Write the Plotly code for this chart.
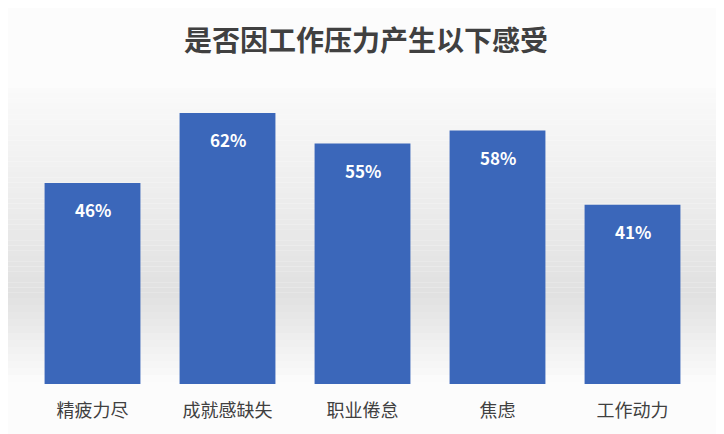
import plotly.graph_objects as go

categories = ["精疲力尽", "成就感缺失", "职业倦怠", "焦虑", "工作动力"]
values = [46, 62, 55, 58, 41]
labels = ["46%", "62%", "55%", "58%", "41%"]

# page body adds an 8px offset, so the figure is a bit smaller than the window
W, H = 716, 426
mt, mb = 70, 50
plot_h = H - mt - mb

def py(pix):
    # pixel (from top of figure) -> paper y
    return (H - mb - pix) / plot_h

fig = go.Figure()
fig.add_trace(go.Bar(x=categories, y=values, marker=dict(color="#3b67ba", line=dict(width=0)),
                     hoverinfo="skip"))

# background: soft grey band fading out toward the top and the bottom
shapes = []
bands = 40
for i in range(bands):
    top = 80 + i * (290 - 80) / bands
    bot = 80 + (i + 1) * (290 - 80) / bands
    g = int(251 - (i + 1) * (251 - 225) / bands)
    shapes.append(dict(type="rect", xref="paper", yref="paper", x0=-0.05, x1=1.05,
                       y0=py(bot), y1=py(top), fillcolor=f"rgb({g},{g},{g})",
                       line=dict(width=0), layer="below"))
for i in range(12):
    top = 290 + i * 7
    bot = top + 7
    g = int(225 + (i + 1) * (251 - 225) / 12)
    shapes.append(dict(type="rect", xref="paper", yref="paper", x0=-0.05, x1=1.05,
                       y0=py(bot), y1=py(top), fillcolor=f"rgb({g},{g},{g})",
                       line=dict(width=0), layer="below"))

annotations = []
for c, v, t in zip(categories, values, labels):
    annotations.append(dict(x=c, y=v, text=t, showarrow=False, yshift=-27,
                            font=dict(family="Noto Sans CJK SC", size=17, color="white",
                                      weight="bold")))

fig.update_layout(
    width=W, height=H,
    margin=dict(l=17, r=24, t=mt, b=mb),
    paper_bgcolor="#fcfcfc", plot_bgcolor="rgba(0,0,0,0)",
    title=dict(text="<b>是否因工作压力产生以下感受</b>", x=0.5, xanchor="center",
               y=1 - 33 / H, yanchor="middle",
               font=dict(family="Noto Sans CJK SC", size=28, color="#404040")),
    bargap=0.29,
    showlegend=False,
    shapes=shapes,
    annotations=annotations,
    xaxis=dict(showgrid=False, showline=False, zeroline=False, ticks="",
               ticklabelstandoff=14,
               tickfont=dict(family="Noto Sans CJK SC", size=18, color="#404040")),
    yaxis=dict(range=[0, 70], visible=False),
)

fig.write_html("out.html")
